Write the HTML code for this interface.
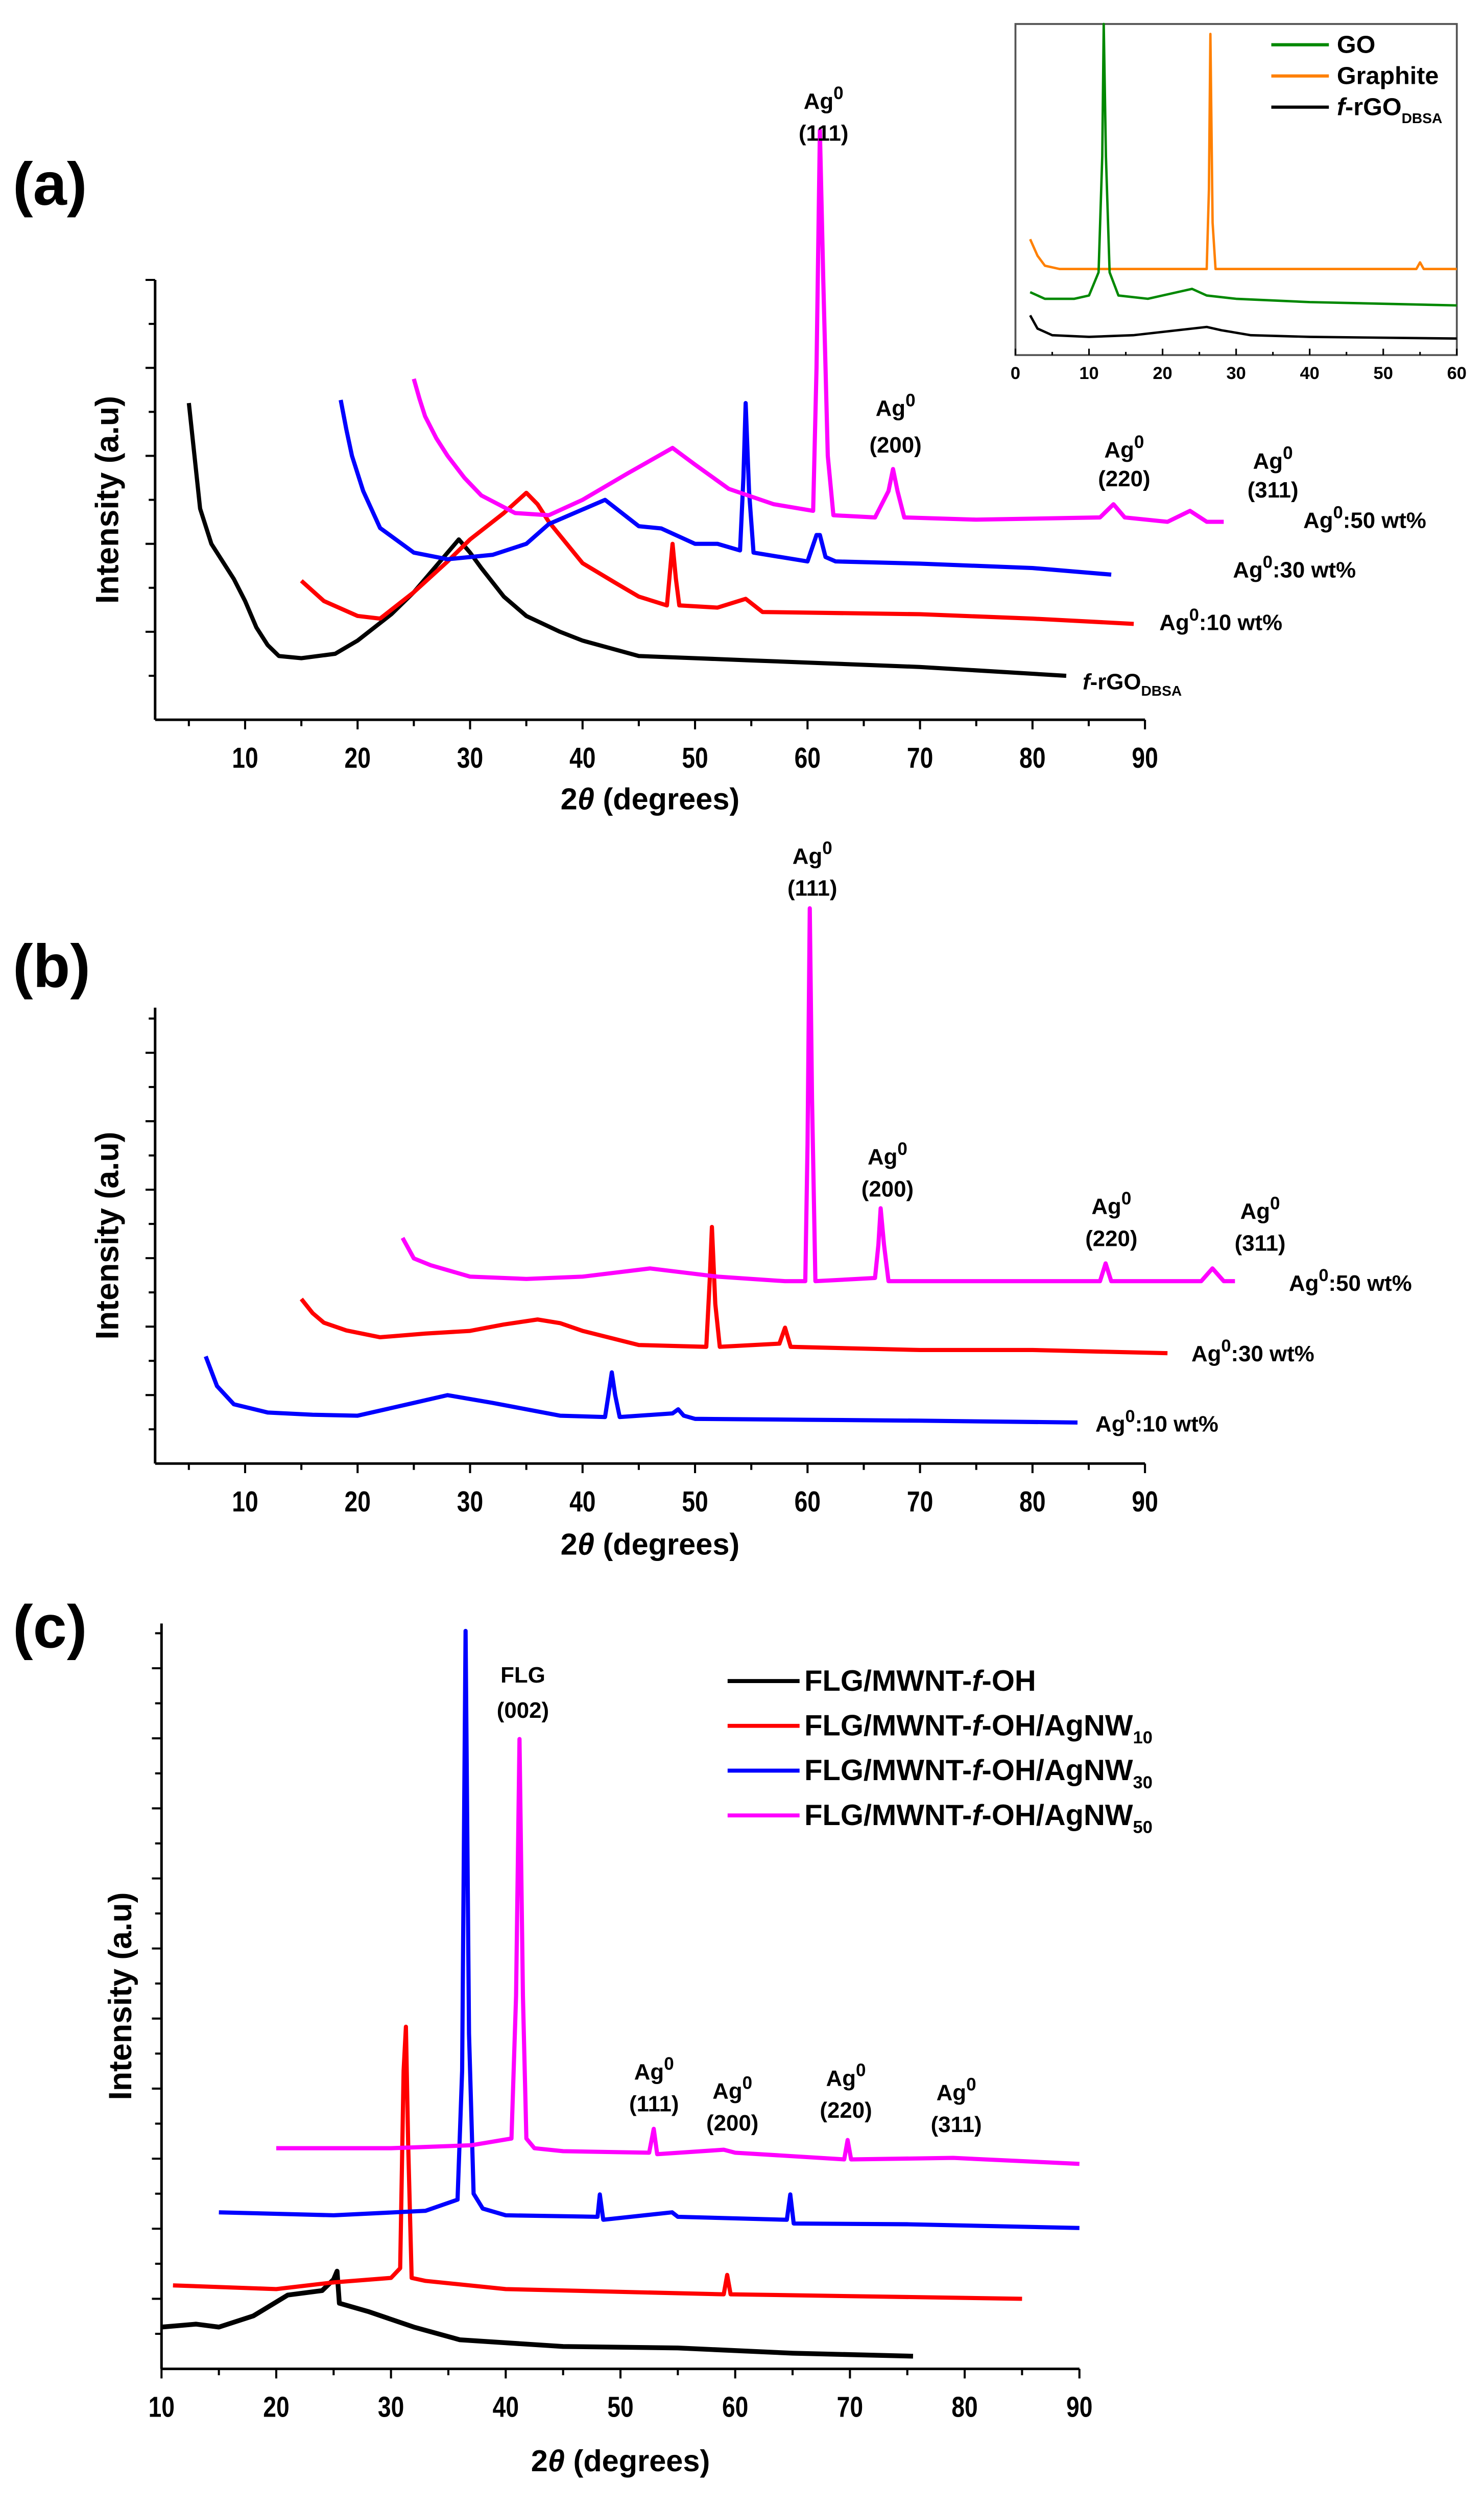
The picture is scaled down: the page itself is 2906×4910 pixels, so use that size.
<!DOCTYPE html>
<html><head><meta charset="utf-8"><style>
html,body{margin:0;padding:0;background:#fff}
svg{display:block}
text{font-family:"Liberation Sans",sans-serif;font-weight:bold;fill:#000}
</style></head><body>
<svg id="fig" width="2906" height="4910" viewBox="0 0 928 1568" preserveAspectRatio="none" xmlns="http://www.w3.org/2000/svg"></svg>
<script>
// ---------- Panel (a) data (x = 2θ degrees, y = intensity a.u.) ----------
const aBlackX=[5,5.5,6,7,8,9,10,11,12,13,15,18,20,23,25,27,29,30,31,33,35,38,40,45,50,55,60,70,83];
const aBlackY=[72,60,48,40,36,32,27,21,17,14.5,14,15,18,24,29,35,41,38,34.5,28,23.6,20,18,14.5,14,13.5,13,12,10];
const aRedX=[15,17,20,22,25,28,30,33,35,36,37,40,43,45,47.5,48,48.3,48.6,52,54.5,56,70,80,89];
const aRedY=[31.6,27,23.6,23,29,36,41,47,51.6,49,45,35.6,31,28,26,40,32,26,25.5,27.5,24.5,24,23,21.8];
const aBlueX=[18.5,19,19.5,20.5,22,25,28,32,35,37,42,45,47,50,52,54,54.3,54.5,54.8,55.2,60,60.8,61.1,61.6,62.5,70,80,87];
const aBlueY=[72.7,66,60,52,43.6,38,36.5,37.5,40,44.5,50,44,43.5,40,40,38.5,55,72,52,38,36,42,42,37,36,35.5,34.5,33];
const aMagX=[25,25.5,26,27,28,29.5,31,34,37,40,44,48,50,53,57,60.5,60.8,61.1,61.4,61.8,62.3,66,67.2,67.6,68,68.6,75,86,87.2,88.2,92,94,95.5,97];
const aMagY=[77.5,73,69,64,60,55,51,47,46.5,50,56,61.8,58,52.5,49,47.5,80,134,100,60,46.5,46,52,57,52,46,45.5,46,49,46,45,47.5,45,45];
// inset
const iOrX=[2,3,4,6,26,26.3,26.5,26.8,27.2,54.5,55,55.5,60];
const iOrY=[35,30,27,26,26,50,97,40,26,26,28,26,26];
const iGrX=[2,4,8,10,11.3,11.8,12,12.3,12.8,14,18,22,24,26,30,40,60];
const iGrY=[19,17,17,18,25,60,100,60,25,18,17,19,20,18,17,16,15];
const iBkX=[2,3,5,10,16,20,24,26,28,32,40,60];
const iBkY=[12,8,6,5.5,6,7,8,8.5,7.5,6,5.5,5];
// ---------- Panel (b) ----------
const bBlueX=[6.5,7.5,9,12,16,20,25,28,32,38,42,42.3,42.6,42.9,43.3,48,48.5,49,50,60,70,84];
const bBlueY=[23.5,17,13,11.2,10.7,10.5,13.3,15,13.3,10.5,10.2,15,20,15,10.2,11,11.9,10.5,9.8,9.6,9.4,9];
const bRedX=[15,16,17,19,22,26,30,33,36,38,40,45,51,51.3,51.5,51.8,52.2,57.5,58,58.5,70,80,92];
const bRedY=[36.1,33,30.9,29.2,27.7,28.5,29.1,30.5,31.6,30.8,29.1,26,25.6,40,51.9,35,25.6,26.3,29.8,25.6,24.9,24.9,24.2];
const bMagX=[24,25,26.5,30,35,40,46,52,58,59.8,60,60.2,60.4,60.7,66,66.3,66.5,66.8,67.2,86,86.5,87,95,96,97,98];
const bMagY=[49.5,45,43.5,41,40.5,41,42.8,41,40,40,70,121.8,80,40,40.7,48,56,48,40,40,43.9,40,40,42.8,40,40];
// ---------- Panel (c) ----------
const cBlackX=[10,13,15,18,21,24,25,25.3,25.5,28,32,36,45,55,65,75.5];
const cBlackY=[5.6,6,5.6,7.1,9.9,10.5,12,13.1,8.8,7.7,5.6,3.9,3,2.8,2.1,1.7];
const cRedX=[11,20,25,30,30.8,31.1,31.3,31.5,31.8,33,40,59,59.3,59.6,85];
const cRedY=[11.2,10.7,11.6,12.2,13.5,40,45.9,30,12.2,11.8,10.7,10,12.6,10,9.4];
const cBlueX=[15,25,33,35.8,36.2,36.5,36.8,37.2,38,40,48,48.2,48.5,54.5,55,64.5,64.8,65.1,75,90];
const cBlueY=[21,20.6,21.2,22.7,40,99,45,23.5,21.5,20.6,20.4,23.4,20,21,20.4,20,23.4,19.5,19.4,18.9];
const cMagX=[20,30,37,40.5,40.9,41.2,41.5,41.8,42.5,45,52.5,52.9,53.2,59,60,69.5,69.8,70.1,79,90];
const cMagY=[29.6,29.6,30,30.9,50,84.5,50,30.9,29.6,29.2,29,32.2,28.8,29.4,29,28.1,30.7,28.1,28.3,27.5];

const NS="http://www.w3.org/2000/svg";
const svg=document.getElementById('fig');
function el(tag,attrs,parent){const e=document.createElementNS(NS,tag);for(const k in attrs)e.setAttribute(k,attrs[k]);(parent||svg).appendChild(e);return e;}
function txt(s,x,y,size,parent,anchor){const t=el('text',{x:x,y:y,'font-size':size,'text-anchor':anchor||'middle'},parent);t.textContent=s;return t;}

function axes(o){
  const g=el('g',{});
  
  
  el('line',{x1:o.x0,y1:o.yb,x2:o.x0,y2:o.yt,stroke:'#000','stroke-width':1.6},g);
  el('line',{x1:o.x0,y1:o.yb,x2:o.x1,y2:o.yb,stroke:'#000','stroke-width':1.6},g);
  const sx=v=>o.x0+(v-o.v0)/(o.v1-o.v0)*(o.x1-o.x0);
  for(let v=o.tickStart;v<=o.v1+0.01;v+=5){
    const major=(v%10===0);
    el('line',{x1:sx(v),y1:o.yb,x2:sx(v),y2:o.yb+(major?6:4),stroke:'#000','stroke-width':1.3},g);
    if(major){const t=txt(String(v),sx(v),o.yb+30,18,g);t.setAttribute('transform',`translate(${sx(v)},${o.yb+30}) scale(0.82,1) translate(${-sx(v)},${-(o.yb+30)})`);}
  }
  for(let i=0;i<o.yTickN;i++){
    const y=o.yb-(i+1)*o.yStep;
    if(y<o.yt-1)break;
    el('line',{x1:o.x0,y1:y,x2:o.x0-((i%2)?6:4),y2:y,stroke:'#000','stroke-width':1.3},g);
  }
  const xl=el('text',{x:(o.x0+o.x1)/2,y:o.xlabelY,'font-size':19,'text-anchor':'middle'},g);
  xl.innerHTML='2<tspan font-style="italic">θ</tspan> (degrees)';
  
  
  const yl=txt('Intensity (a.u)',0,0,20,g);
  yl.setAttribute('transform',`translate(${o.ylabelX},${(o.yt+o.yb)/2}) rotate(-90)`);
  
  
  return sx;
}
function series(xs,ys,sx,sy,color,name,w){
  const pts=xs.map((x,i)=>sx(x).toFixed(2)+','+sy(ys[i]).toFixed(2)).join(' ');
  const p=el('polyline',{points:pts,fill:'none',stroke:color,'stroke-width':w||2.6,'stroke-linejoin':'round'});
  
  
}
function agLabel(x,y1,y2,hkl,size){
  const t=el('text',{x:x,y:y1,'font-size':size,'text-anchor':'middle'});
  t.innerHTML='Ag<tspan dy="-6" font-size="'+(size*0.8)+'">0</tspan>';
  
  
  const u=txt('('+hkl+')',x,y2,size);
  
  
}
function wtLabel(x,y,wt){
  const t=el('text',{x:x,y:y,'font-size':14,'text-anchor':'start'});
  t.innerHTML='Ag<tspan dy="-6" font-size="11">0</tspan><tspan dy="6">:'+wt+' wt%</tspan>';
  
  
}
function panelLabel(s,x,y){const t=txt(s,x,y,38,null,'start');}

// ===== Panel (a) =====
panelLabel('(a)',8,128);
const sxA=axes({name:'panel-a',x0:97,x1:716,v0:2,v1:90,yb:450,yt:175,tickStart:5,yTickN:10,yStep:27.5,xlabelY:506,ylabelX:74});
const syA=v=>450-v*2.75;
series(aBlackX,aBlackY,sxA,syA,'#000','series-frgo-dbsa');
series(aRedX,aRedY,sxA,syA,'#f00','series-ag-10wt');
series(aBlueX,aBlueY,sxA,syA,'#00f','series-ag-30wt');
series(aMagX,aMagY,sxA,syA,'#f0f','series-ag-50wt');
agLabel(515,68,88,'111',14);agLabel(560,260,283,'200',14);agLabel(703,286,304,'220',14);agLabel(796,293,311,'311',14);
wtLabel(815,330,'50');wtLabel(771,361,'30');wtLabel(725,394,'10');
{const t=el('text',{x:677,y:431,'font-size':14,'text-anchor':'start'});t.innerHTML='<tspan font-style="italic">f</tspan>-rGO<tspan dy="4" font-size="9">DBSA</tspan>';}

// Inset
{
const g=el('g',{});


el('rect',{x:635,y:15,width:276,height:207,fill:'#fff',stroke:'#555','stroke-width':1.2},g);
const sxI=v=>635+v/60*276, syI=v=>222-v*2.07;
for(let v=0;v<=60;v+=5){el('line',{x1:sxI(v),y1:222,x2:sxI(v),y2:222-(v%10===0?4:2),stroke:'#000','stroke-width':1},g);if(v%10===0)txt(String(v),sxI(v),237,11,g);}
series(iOrX,iOrY,sxI,syI,'#ff8000','inset-series-graphite',1.5);
series(iGrX,iGrY,sxI,syI,'#080','inset-series-go',1.5);
series(iBkX,iBkY,sxI,syI,'#000','inset-series-frgo',1.5);
const leg=[['#080','GO'],['#ff8000','Graphite'],['#000','f-rGO']];
leg.forEach((l,i)=>{const y=28+i*19.5;
 const ln=el('line',{x1:795,y1:y,x2:831,y2:y,stroke:l[0],'stroke-width':2});
 
 const t=el('text',{x:836,y:y+5,'font-size':15.5,'text-anchor':'start'});
 t.innerHTML=i<2?l[1]:'<tspan font-style="italic">f</tspan>-rGO<tspan dy="5" font-size="9">DBSA</tspan>';
 });
}

// ===== Panel (b) =====
panelLabel('(b)',8,617);
const sxB=axes({name:'panel-b',x0:97,x1:716,v0:2,v1:90,yb:915,yt:630,tickStart:5,yTickN:14,yStep:21.4,xlabelY:972,ylabelX:74});
const syB=v=>915-v*2.85;
series(bBlueX,bBlueY,sxB,syB,'#00f','series-ag-10wt-b');
series(bRedX,bRedY,sxB,syB,'#f00','series-ag-30wt-b');
series(bMagX,bMagY,sxB,syB,'#f0f','series-ag-50wt-b');
agLabel(508,540,560,'111',14);agLabel(555,728,748,'200',14);agLabel(695,759,779,'220',14);agLabel(788,762,782,'311',14);
wtLabel(806,807,'50');wtLabel(745,851,'30');wtLabel(685,895,'10');

// ===== Panel (c) =====
panelLabel('(c)',8,1030);
const sxC=axes({name:'panel-c',x0:101,x1:675,v0:10,v1:90,yb:1481,yt:1015,tickStart:10,yTickN:21,yStep:21.9,xlabelY:1545,ylabelX:82});
const syC=v=>1481-v*4.66;
series(cBlackX,cBlackY,sxC,syC,'#000','series-flg-mwnt-oh',3);
series(cRedX,cRedY,sxC,syC,'#f00','series-agnw10',2.6);
series(cBlueX,cBlueY,sxC,syC,'#00f','series-agnw30',2.6);
series(cMagX,cMagY,sxC,syC,'#f0f','series-agnw50',2.6);
{const t=txt('FLG',327,1052,14);
 const u=txt('(002)',327,1074,14);}
agLabel(409,1300,1320,'111',14);agLabel(458,1312,1332,'200',14);agLabel(529,1304,1324,'220',14);agLabel(598,1313,1333,'311',14);
const cLegColors=['#000','#f00','#00f','#f0f'];
const cLegSubs=['','10','30','50'];
cLegColors.forEach((c,i)=>{const y=1051+i*28;
 const ln=el('line',{x1:455,y1:y,x2:500,y2:y,stroke:c,'stroke-width':2.5});
 
 const t=el('text',{x:503,y:y+6,'font-size':18.5,'text-anchor':'start'});
 t.innerHTML='FLG/MWNT-<tspan font-style="italic">f</tspan>-OH'+(i?'/AgNW<tspan dy="5" font-size="11">'+cLegSubs[i]+'</tspan>':'');
 });
</script>
</body></html>
